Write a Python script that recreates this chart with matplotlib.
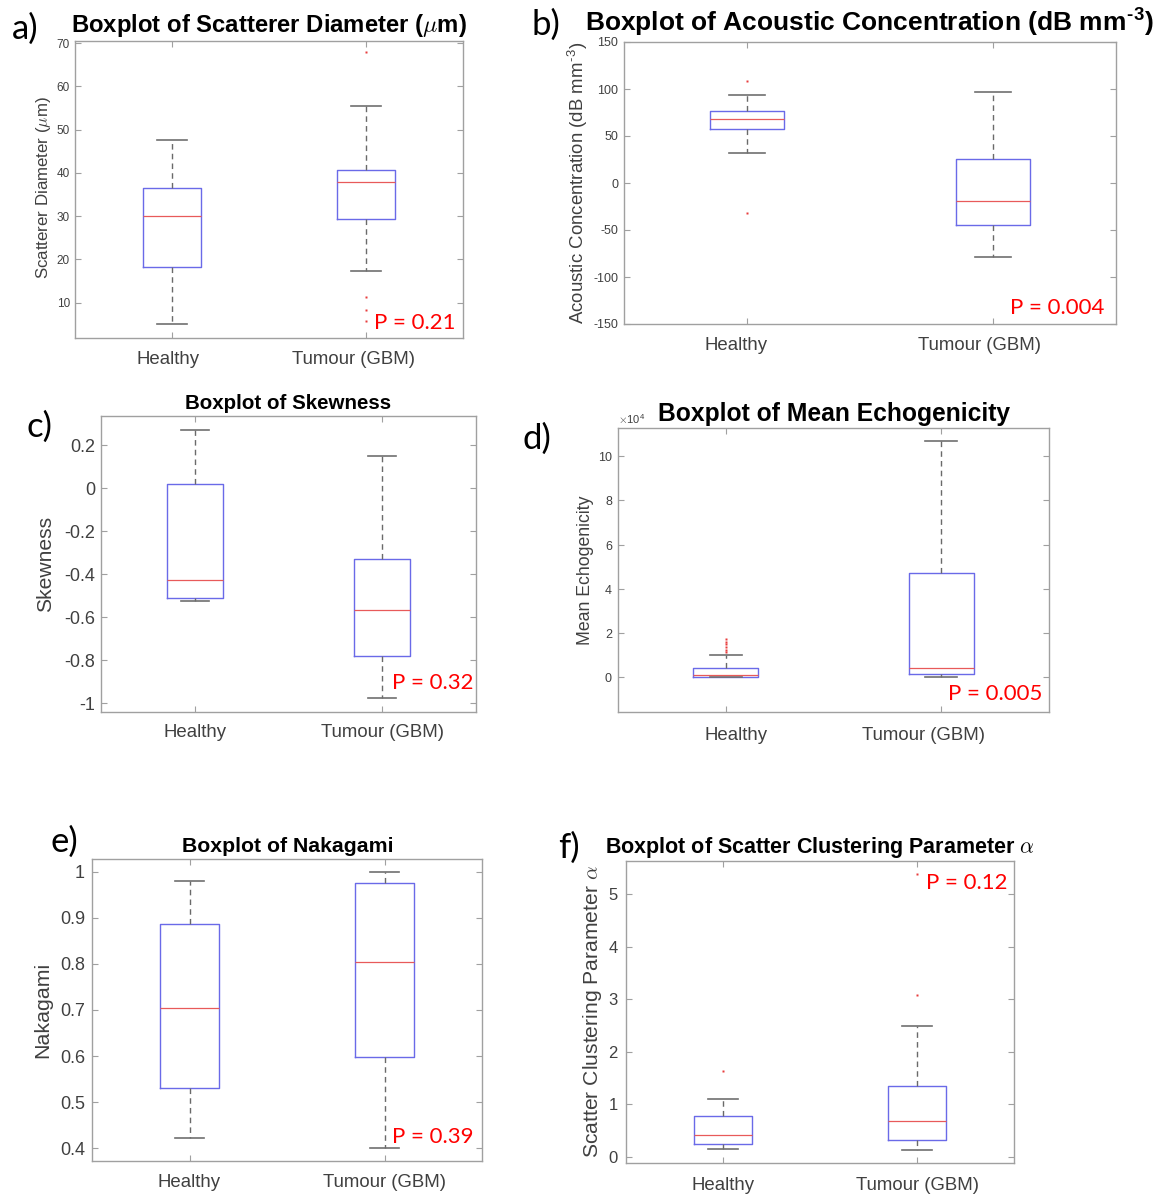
import matplotlib
matplotlib.use("Agg")
import matplotlib.pyplot as plt
from matplotlib.ticker import FuncFormatter, ScalarFormatter
from matplotlib.transforms import ScaledTranslation

W, H, DPI = 1173, 1194, 100

plt.rcParams['font.family'] = ['Liberation Sans', 'DejaVu Sans']
plt.rcParams['mathtext.fontset'] = 'cm'
plt.rcParams['axes.unicode_minus'] = False

groups = ['Healthy', 'Tumour (GBM)']

# Box summaries per group: [whisker low, Q1, median, Q3, whisker high]
diam_stats = [[5.0, 18.3, 30.0, 36.6, 47.5], [17.4, 29.3, 38.0, 40.6, 55.4]]
diam_fliers = [[], [67.9, 11.3, 8.3, 5.8]]

acoustic_stats = [[32.0, 57.0, 68.0, 76.5, 93.6], [-79.0, -44.2, -19.5, 25.4, 97.0]]
acoustic_fliers = [[108.0, -32.0], []]

skew_stats = [[-0.526, -0.512, -0.428, 0.02, 0.27], [-0.977, -0.782, -0.568, -0.33, 0.149]]
skew_fliers = [[], []]

echo_stats = [[50, 300, 1200, 4500, 10300], [150, 1500, 4200, 47400, 106800]]
echo_fliers = [[17400, 16100, 14900, 13700, 12500, 11300], []]

naka_stats = [[0.422, 0.530, 0.704, 0.887, 0.981], [0.401, 0.598, 0.804, 0.975, 1.0]]
naka_fliers = [[], []]

alpha_stats = [[0.16, 0.255, 0.42, 0.775, 1.10], [0.127, 0.33, 0.685, 1.35, 2.49]]
alpha_fliers = [[1.64], [3.08, 5.39]]

p_values = ['P = 0.21', 'P = 0.004', 'P = 0.32', 'P = 0.005', 'P = 0.39', 'P = 0.12']

titles = [
    r'Boxplot of Scatterer Diameter ($\mu$m)',
    'Boxplot of Acoustic Concentration (dB mm$^{\\mathregular{\u20103}}$)',
    'Boxplot of Skewness',
    'Boxplot of Mean Echogenicity',
    'Boxplot of Nakagami',
    r'Boxplot of Scatter Clustering Parameter $\alpha$',
]
ylabels = [
    r'Scatterer Diameter ($\mu$m)',
    'Acoustic Concentration (dB mm$^{\\mathregular{\u20103}}$)',
    'Skewness',
    'Mean Echogenicity',
    'Nakagami',
    r'Scatter Clustering Parameter $\alpha$',
]
panel_tags = ['a)', 'b)', 'c)', 'd)', 'e)', 'f)']

BLUE = '#6a6ae8'
RED = '#e85a5a'
WHISK = '#6a6a6a'
CAP = '#6f6f6f'
FLIER = '#e83c3c'
SPINE = '#a0a0a0'
TICK = '#404040'

fig = plt.figure(figsize=(W / DPI, H / DPI), dpi=DPI)


def px(x, y):
    return x / W, 1 - y / H


def add_axes(l, t, r, b):
    return fig.add_axes([l / W, 1 - b / H, (r - l) / W, (b - t) / H])


def draw_boxes(ax, stats, fliers):
    recs = [dict(whislo=s[0], q1=s[1], med=s[2], q3=s[3], whishi=s[4], fliers=f)
            for s, f in zip(stats, fliers)]
    ax.bxp(recs, positions=[1, 2], widths=0.3, capwidths=0.15, showfliers=True,
           boxprops=dict(color=BLUE, linewidth=1.0),
           medianprops=dict(color=RED, linewidth=0.9),
           whiskerprops=dict(color=WHISK, linewidth=1.0, linestyle=(0, (4, 3))),
           capprops=dict(color=CAP, linewidth=1.2),
           flierprops=dict(marker='s', markersize=1.8, color=FLIER,
                           markeredgecolor='none', markerfacecolor=FLIER,
                           linestyle='none'))


# layout of each panel
panels = [
    dict(stats=diam_stats, fliers=diam_fliers, rect=(75, 41, 463, 338),
         ylim=(1.83, 70.5), yticks=[10, 20, 30, 40, 50, 60, 70], yfs=8.5, ypad=3.6,
         xfs=13.4, xpad=9.2, xoff=(-4, -12),
         title_xy=(269, 32), title_fs=17.2,
         ylab_xy=(44, 188), ylab_fs=12.2,
         p_xy=(456, 329), tag_xy=(12, 39)),
    dict(stats=acoustic_stats, fliers=acoustic_fliers, rect=(624, 42, 1116, 324),
         ylim=(-150, 150), yticks=[-150, -100, -50, 0, 50, 100, 150], yfs=9, ypad=4.3,
         xfs=13.4, xpad=9.6, xoff=(-11, -13.5),
         title_xy=(870, 31), title_fs=19,
         ylab_xy=(578, 183), ylab_fs=13.4,
         p_xy=(1104, 314), tag_xy=(532, 35)),
    dict(stats=skew_stats, fliers=skew_fliers, rect=(101, 416, 476, 712),
         ylim=(-1.04, 0.335), yticks=[-1, -0.8, -0.6, -0.4, -0.2, 0, 0.2], yfs=13, ypad=4.3,
         xfs=13.4, xpad=8.6, xoff=(0, 0),
         title_xy=(288, 409), title_fs=14.8,
         ylab_xy=(46, 564), ylab_fs=15.2,
         p_xy=(473, 689), tag_xy=(26, 437)),
    dict(stats=echo_stats, fliers=echo_fliers, rect=(618, 428, 1049, 712),
         ylim=(-1.56e4, 11.27e4), yticks=[0, 2e4, 4e4, 6e4, 8e4, 10e4], yfs=9, ypad=3.6,
         xfs=13.4, xpad=11, xoff=(10, -17.5),
         title_xy=(834, 421), title_fs=17.7,
         ylab_xy=(586, 570), ylab_fs=12.7,
         p_xy=(1042, 700), tag_xy=(522, 449)),
    dict(stats=naka_stats, fliers=naka_fliers, rect=(92, 859, 482, 1161),
         ylim=(0.372, 1.028), yticks=[0.4, 0.5, 0.6, 0.7, 0.8, 0.9, 1.0], yfs=13, ypad=5,
         xfs=13.4, xpad=9.3, xoff=(0, 0),
         title_xy=(288, 852), title_fs=15.3,
         ylab_xy=(43, 1010), ylab_fs=15.4,
         p_xy=(474, 1143), tag_xy=(50, 852)),
    dict(stats=alpha_stats, fliers=alpha_fliers, rect=(626, 861, 1014, 1163),
         ylim=(-0.114, 5.63), yticks=[0, 1, 2, 3, 4, 5], yfs=12, ypad=5.8,
         xfs=13.4, xpad=10.3, xoff=(0, 0),
         title_xy=(820, 853), title_fs=15.5,
         ylab_xy=(592, 1012), ylab_fs=15.2,
         p_xy=(1008, 889), tag_xy=(558, 858)),
]

for i, pnl in enumerate(panels):
    ax = add_axes(*pnl['rect'])
    draw_boxes(ax, pnl['stats'], pnl['fliers'])
    ax.set_xlim(0.5, 2.5)
    ax.set_ylim(*pnl['ylim'])
    ax.set_yticks(pnl['yticks'])
    ax.set_xticks([1, 2])
    ax.set_xticklabels(groups)
    if i == 3:
        fmt = ScalarFormatter(useMathText=True)
        fmt.set_powerlimits((4, 4))
        ax.yaxis.set_major_formatter(fmt)
        ax.yaxis.get_offset_text().set_fontsize(8)
        ax.yaxis.get_offset_text().set_color('#707070')
    else:
        ax.yaxis.set_major_formatter(FuncFormatter(lambda v, _: f'{v:g}'))
    for sp in ax.spines.values():
        sp.set_color(SPINE)
        sp.set_linewidth(1.0)
    ax.tick_params(direction='in', length=4, width=0.8, color=SPINE,
                   top=True, right=True, labelcolor=TICK)
    ax.tick_params(axis='y', labelsize=pnl['yfs'], pad=pnl['ypad'])
    ax.tick_params(axis='x', labelsize=pnl['xfs'], pad=pnl['xpad'])
    for lab, dx in zip(ax.get_xticklabels(), pnl['xoff']):
        lab.set_transform(lab.get_transform() + ScaledTranslation(dx / DPI, 0, fig.dpi_scale_trans))

    tx, ty = px(*pnl['title_xy'])
    fig.text(tx, ty, titles[i], ha='center', va='baseline',
             fontsize=pnl['title_fs'], fontweight='bold', color='black')
    lx, ly = px(*pnl['ylab_xy'])
    fig.text(lx, ly, ylabels[i], rotation=90, ha='center', va='center',
             fontsize=pnl['ylab_fs'], color=TICK)
    pxx, pyy = px(*pnl['p_xy'])
    fig.text(pxx, pyy, p_values[i], ha='right', va='baseline',
             fontsize=16, color='red', family=['Lato', 'DejaVu Sans'])
    gx, gy = px(*pnl['tag_xy'])
    fig.text(gx, gy, panel_tags[i], ha='left', va='baseline',
             fontsize=25, color='black', family=['Lato', 'DejaVu Sans'])

fig.savefig('out.png', dpi=DPI)
